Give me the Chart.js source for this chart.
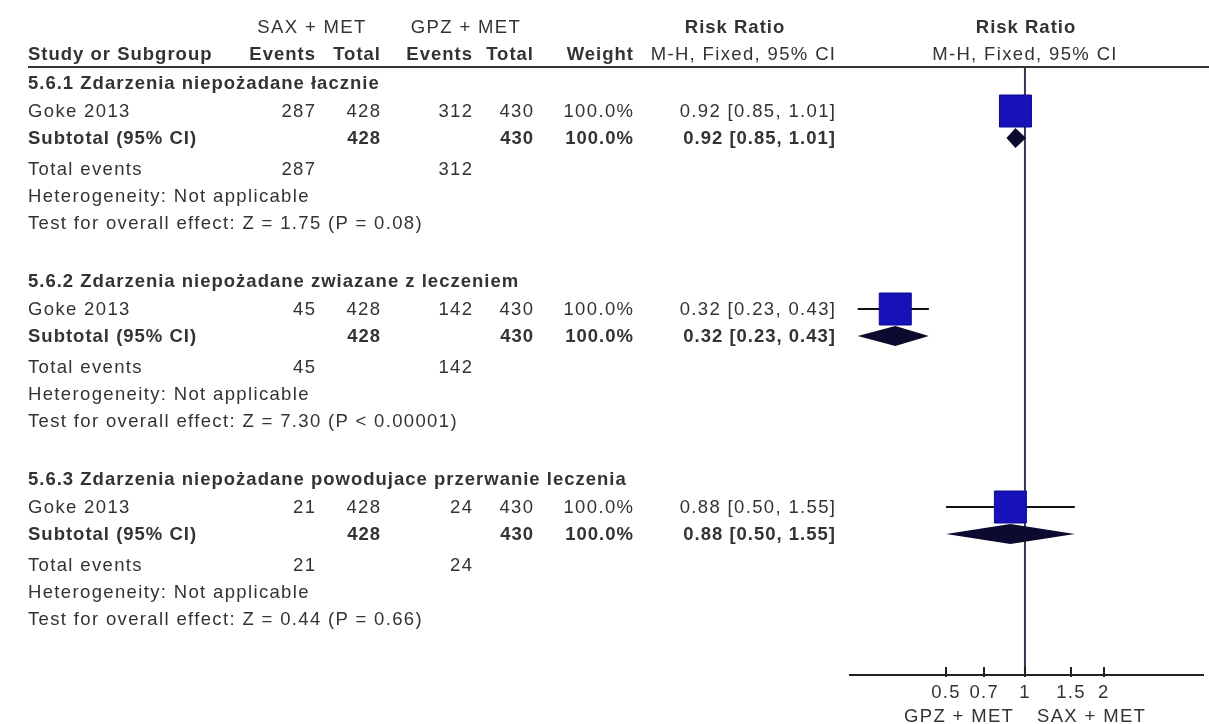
<!DOCTYPE html>
<html>
<head>
<meta charset="utf-8">
<script src="https://cdn.jsdelivr.net/npm/chart.js@4/dist/chart.umd.min.js"></script>
<style>
  html, body { margin: 0; padding: 0; background: #ffffff; }
  #page { position: relative; width: 1209px; height: 724px; overflow: hidden; background: #ffffff; }
  #plot { position: absolute; left: 0; top: 0; }
  .t {
    position: absolute; white-space: nowrap; color: #333333;
    font-family: "Liberation Sans", Arial, sans-serif; font-size: 18.5px;
    line-height: 22px; height: 22px; letter-spacing: 1.35px;
  }
  .b { font-weight: bold; letter-spacing: 1px; }
  .rule { position: absolute; background: #333333; }
</style>
</head>
<body>
<div id="page">
  <canvas id="plot" width="1209" height="724"></canvas>
</div>
<script>
// ---- data ----
const subgroupTitles = [
  '5.6.1 Zdarzenia niepożadane łacznie',
  '5.6.2 Zdarzenia niepożadane zwiazane z leczeniem',
  '5.6.3 Zdarzenia niepożadane powodujace przerwanie leczenia'
];
const studyNames = ['Goke 2013', 'Goke 2013', 'Goke 2013'];
const saxEvents = [287, 45, 21];
const saxTotal = [428, 428, 428];
const gpzEvents = [312, 142, 24];
const gpzTotal = [430, 430, 430];
const weightPct = [100.0, 100.0, 100.0];
const riskRatio = [0.92, 0.32, 0.88];
const ciLower = [0.85, 0.23, 0.50];
const ciUpper = [1.01, 0.43, 1.55];
const zValues = [1.75, 7.30, 0.44];
const pTexts = ['P = 0.08', 'P < 0.00001', 'P = 0.66'];
const axisTicks = [0.5, 0.7, 1, 1.5, 2];
const axisMin = 0.215, axisMax = 4.78;

// ---- table layout (page pixels) ----
const TABLE_TOP = 67, AXIS_Y = 675;
const GROUP_FIRST = 111, GROUP_STEP = 198;
const LINE = { header: -28, study: 0, subtotal: 27, totalEvents: 58, hetero: 85, test: 112 };
const COL = { name: 28, saxEv: 315, saxTot: 380, gpzEv: 472, gpzTot: 533, weight: 633, ci: 835 };
const rowY = (g, key) => GROUP_FIRST + GROUP_STEP * g + LINE[key];

const page = document.getElementById('page');
function put(text, x, y, align, bold) {
  const d = document.createElement('div');
  d.className = 't' + (bold ? ' b' : '');
  d.textContent = text;
  d.style.top = (y - 11) + 'px';
  if (align === 'left') {
    d.style.left = x + 'px';
  } else if (align === 'right') {
    const ls = bold ? 1 : 1.35;
    d.style.left = (x - 500 + ls) + 'px';
    d.style.width = '500px';
    d.style.textAlign = 'right';
  } else {
    d.style.left = (x - 250) + 'px';
    d.style.width = '500px';
    d.style.textAlign = 'center';
  }
  page.appendChild(d);
  return d;
}
const fmt2 = v => v.toFixed(2);
const ciText = i => `${fmt2(riskRatio[i])} [${fmt2(ciLower[i])}, ${fmt2(ciUpper[i])}]`;

// column headers
put('SAX + MET', 312, 27, 'center', false);
put('GPZ + MET', 466, 27, 'center', false);
put('Risk Ratio', 735, 27, 'center', true);
put('Risk Ratio', 1026, 27, 'center', true);
put('Study or Subgroup', COL.name, 54, 'left', true);
put('Events', COL.saxEv, 54, 'right', true);
put('Total', COL.saxTot, 54, 'right', true);
put('Events', COL.gpzEv, 54, 'right', true);
put('Total', COL.gpzTot, 54, 'right', true);
put('Weight', COL.weight, 54, 'right', true);
put('M-H, Fixed, 95% CI', COL.ci, 54, 'right', false);
put('M-H, Fixed, 95% CI', 1025, 54, 'center', false);

const rule = document.createElement('div');
rule.className = 'rule';
rule.style.left = '28px'; rule.style.top = (TABLE_TOP - 1) + 'px';
rule.style.width = (1209 - 28) + 'px'; rule.style.height = '2px';
page.appendChild(rule);

// subgroup blocks
subgroupTitles.forEach((title, g) => {
  put(title, COL.name, rowY(g, 'header'), 'left', true);

  let y = rowY(g, 'study');
  put(studyNames[g], COL.name, y, 'left', false);
  put(String(saxEvents[g]), COL.saxEv, y, 'right', false);
  put(String(saxTotal[g]), COL.saxTot, y, 'right', false);
  put(String(gpzEvents[g]), COL.gpzEv, y, 'right', false);
  put(String(gpzTotal[g]), COL.gpzTot, y, 'right', false);
  put(weightPct[g].toFixed(1) + '%', COL.weight, y, 'right', false);
  put(ciText(g), COL.ci, y, 'right', false);

  y = rowY(g, 'subtotal');
  put('Subtotal (95% CI)', COL.name, y, 'left', true);
  put(String(saxTotal[g]), COL.saxTot, y, 'right', true);
  put(String(gpzTotal[g]), COL.gpzTot, y, 'right', true);
  put(weightPct[g].toFixed(1) + '%', COL.weight, y, 'right', true);
  put(ciText(g), COL.ci, y, 'right', true);

  y = rowY(g, 'totalEvents');
  put('Total events', COL.name, y, 'left', false);
  put(String(saxEvents[g]), COL.saxEv, y, 'right', false);
  put(String(gpzEvents[g]), COL.gpzEv, y, 'right', false);

  put('Heterogeneity: Not applicable', COL.name, rowY(g, 'hetero'), 'left', false);
  put(`Test for overall effect: Z = ${fmt2(zValues[g])} (${pTexts[g]})`, COL.name, rowY(g, 'test'), 'left', false);
});

// ---- forest plot ----
const SQUARE_SIDE = 32;           // side of a square at 100% weight
const DIAMOND_HALF_H = 10;

const whiskerSets = riskRatio.map((rr, i) => ({
  type: 'line',
  data: [{ x: ciLower[i], y: rowY(i, 'study') }, { x: ciUpper[i], y: rowY(i, 'study') }],
  borderColor: '#111111', borderWidth: 2, pointRadius: 0, order: 2
}));

const diamondPlugin = {
  id: 'subtotalDiamonds',
  afterDatasetsDraw(chart) {
    const { ctx, scales: { x, y } } = chart;
    ctx.save();
    ctx.fillStyle = '#0c0a2e';
    riskRatio.forEach((rr, i) => {
      const yc = y.getPixelForValue(rowY(i, 'subtotal'));
      ctx.beginPath();
      ctx.moveTo(x.getPixelForValue(ciLower[i]), yc);
      ctx.lineTo(x.getPixelForValue(rr), yc - DIAMOND_HALF_H);
      ctx.lineTo(x.getPixelForValue(ciUpper[i]), yc);
      ctx.lineTo(x.getPixelForValue(rr), yc + DIAMOND_HALF_H);
      ctx.closePath();
      ctx.fill();
    });
    ctx.restore();
  }
};

const tickMarkPlugin = {
  id: 'upTicks',
  beforeDraw(chart) { chart.ctx.letterSpacing = '1.35px'; },
  afterDraw(chart) {
    const { ctx, scales: { x } } = chart;
    const ya = chart.chartArea.bottom;
    ctx.save();
    ctx.strokeStyle = '#222222';
    ctx.lineWidth = 2;
    x.ticks.forEach(t => {
      const px = Math.round(x.getPixelForValue(t.value));
      ctx.beginPath();
      ctx.moveTo(px, ya - 8);
      ctx.lineTo(px, ya + 2);
      ctx.stroke();
    });
    ctx.restore();
  }
};

const chart = new Chart(document.getElementById('plot'), {
  data: {
    datasets: [
      {
        type: 'scatter',
        data: riskRatio.map((rr, i) => ({ x: rr, y: rowY(i, 'study') })),
        pointStyle: 'rect',
        pointRadius: weightPct.map(w => SQUARE_SIDE * Math.sqrt(w / 100) / Math.SQRT2),
        backgroundColor: '#1611b8',
        borderColor: '#0d0b8c',
        borderWidth: 1,
        order: 0
      },
      ...whiskerSets,
      {
        type: 'line',
        data: [{ x: 1, y: TABLE_TOP }, { x: 1, y: AXIS_Y }],
        borderColor: '#35354f', borderWidth: 2, pointRadius: 0, order: 3
      }
    ]
  },
  options: {
    responsive: false,
    animation: false,
    devicePixelRatio: 1,
    layout: { autoPadding: false, padding: { left: 850, right: 6, top: TABLE_TOP, bottom: 0 } },
    plugins: { legend: { display: false }, tooltip: { enabled: false } },
    scales: {
      x: {
        type: 'logarithmic',
        min: axisMin, max: axisMax,
        afterBuildTicks: s => { s.ticks = axisTicks.map(v => ({ value: v })); },
        afterFit: s => { s.height = 724 - AXIS_Y; s.paddingLeft = 0; s.paddingRight = 0; },
        grid: { display: false, drawTicks: false },
        border: { display: true, color: '#222222', width: 2 },
        ticks: {
          padding: 7, color: '#333333', autoSkip: false, maxRotation: 0,
          font: { family: 'Liberation Sans', size: 18.5 },
          callback: v => String(v)
        }
      },
      y: {
        type: 'linear', reverse: true, display: false,
        min: TABLE_TOP, max: AXIS_Y
      }
    }
  },
  plugins: [diamondPlugin, tickMarkPlugin]
});

// favour labels under the axis, either side of the line of no effect
const xOne = chart.scales.x.getPixelForValue(1);
put('GPZ + MET', xOne - 12, 716, 'right', false);
put('SAX + MET', xOne + 12, 716, 'left', false);
</script>
</body>
</html>
